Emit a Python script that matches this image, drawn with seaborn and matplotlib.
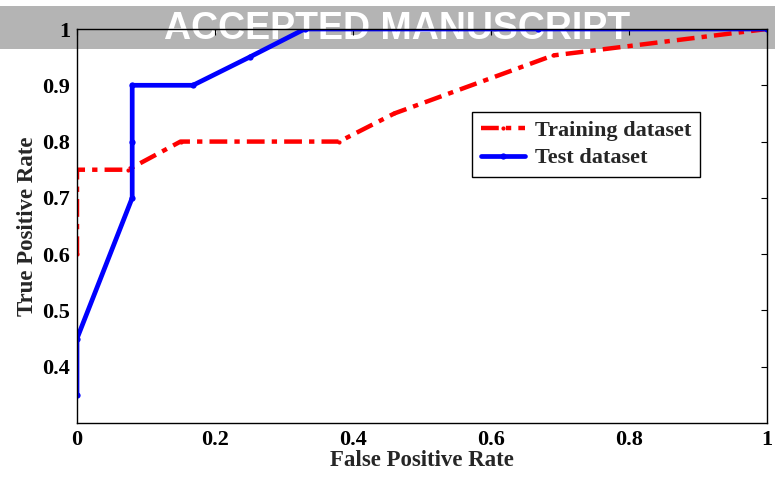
import matplotlib
matplotlib.use("Agg")
import matplotlib.pyplot as plt
import seaborn as sns
import pandas as pd
from matplotlib.patches import Rectangle

train_fpr = [0.0, 0.0, 0.074, 0.15, 0.38, 0.46, 0.69, 1.0]
train_tpr = [0.60, 0.75, 0.75, 0.80, 0.80, 0.85, 0.953, 1.0]
test_fpr = [0.0, 0.0, 0.08, 0.08, 0.08, 0.168, 0.25, 0.33, 0.668, 1.0]
test_tpr = [0.35, 0.45, 0.70, 0.80, 0.90, 0.90, 0.95, 1.0, 1.0, 1.0]
xticks = [0, 0.2, 0.4, 0.6, 0.8, 1]
yticks = [0.4, 0.5, 0.6, 0.7, 0.8, 0.9, 1]
xtick_labels = ["0", "0.2", "0.4", "0.6", "0.8", "1"]
ytick_labels = ["0.4", "0.5", "0.6", "0.7", "0.8", "0.9", "1"]

sns.set_style("white")
plt.rcParams['font.family'] = ['Liberation Serif', 'DejaVu Serif']
plt.rcParams['font.weight'] = 'bold'

fig = plt.figure(figsize=(7.75, 4.79), dpi=100)
# watermark band
fig.patches.append(Rectangle((0, 1 - 49/479), 1, 43/479, transform=fig.transFigure,
                             facecolor='#b4b4b4', edgecolor='none', zorder=0))
fig.text(0.512, 1 - 29/479, "ACCEPTED MANUSCRIPT", ha='center', va='center',
         color='white', fontsize=27, fontweight='bold', family='Liberation Sans', zorder=0.5)

ax = fig.add_axes([77/775, 1 - 423/479, 690/775, 394/479])
ax.set_facecolor('none')
ax.set_zorder(1)

df_train = pd.DataFrame({"fpr": train_fpr, "tpr": train_tpr})
df_test = pd.DataFrame({"fpr": test_fpr, "tpr": test_tpr})

sns.lineplot(data=df_train, x="fpr", y="tpr", sort=False, estimator=None, ax=ax,
             color='#ff0000', lw=3.2, marker='o', markersize=3, markeredgewidth=0,
             label="Training dataset")
sns.lineplot(data=df_test, x="fpr", y="tpr", sort=False, estimator=None, ax=ax,
             color='#0000ff', lw=3.4, marker='o', markersize=4.5, markeredgewidth=0,
             label="Test dataset")
ax.lines[0].set_dashes([4.0, 1.6, 1.2, 1.6])

ax.set_xlim(0, 1)
ax.set_ylim(0.3, 1)
ax.set_xticks(xticks)
ax.set_xticklabels(xtick_labels)
ax.set_yticks(yticks)
ax.set_yticklabels(ytick_labels)
ax.tick_params(direction='in', length=4, width=0.8, top=True, right=True,
               labelsize=16, pad=5, colors='black')
for lab in ax.get_xticklabels() + ax.get_yticklabels():
    lab.set_fontweight('bold')
for s in ax.spines.values():
    s.set_color('black')
    s.set_linewidth(1.0)
ax.set_xlabel("False Positive Rate", fontsize=16.5, fontweight='bold', labelpad=0)
ax.set_ylabel("True Positive Rate", fontsize=16.5, fontweight='bold', labelpad=3)

leg = ax.legend(loc='upper left', bbox_to_anchor=(0.572, 0.79), fontsize=16,
                frameon=True, fancybox=False, edgecolor='black', framealpha=1,
                handlelength=2.0, borderpad=0.4, labelspacing=0.3, handletextpad=0.45,
                borderaxespad=0)
leg.get_frame().set_linewidth(1.0)
for t in leg.get_texts():
    t.set_fontweight('bold')

fig.savefig("out.png", dpi=100)
